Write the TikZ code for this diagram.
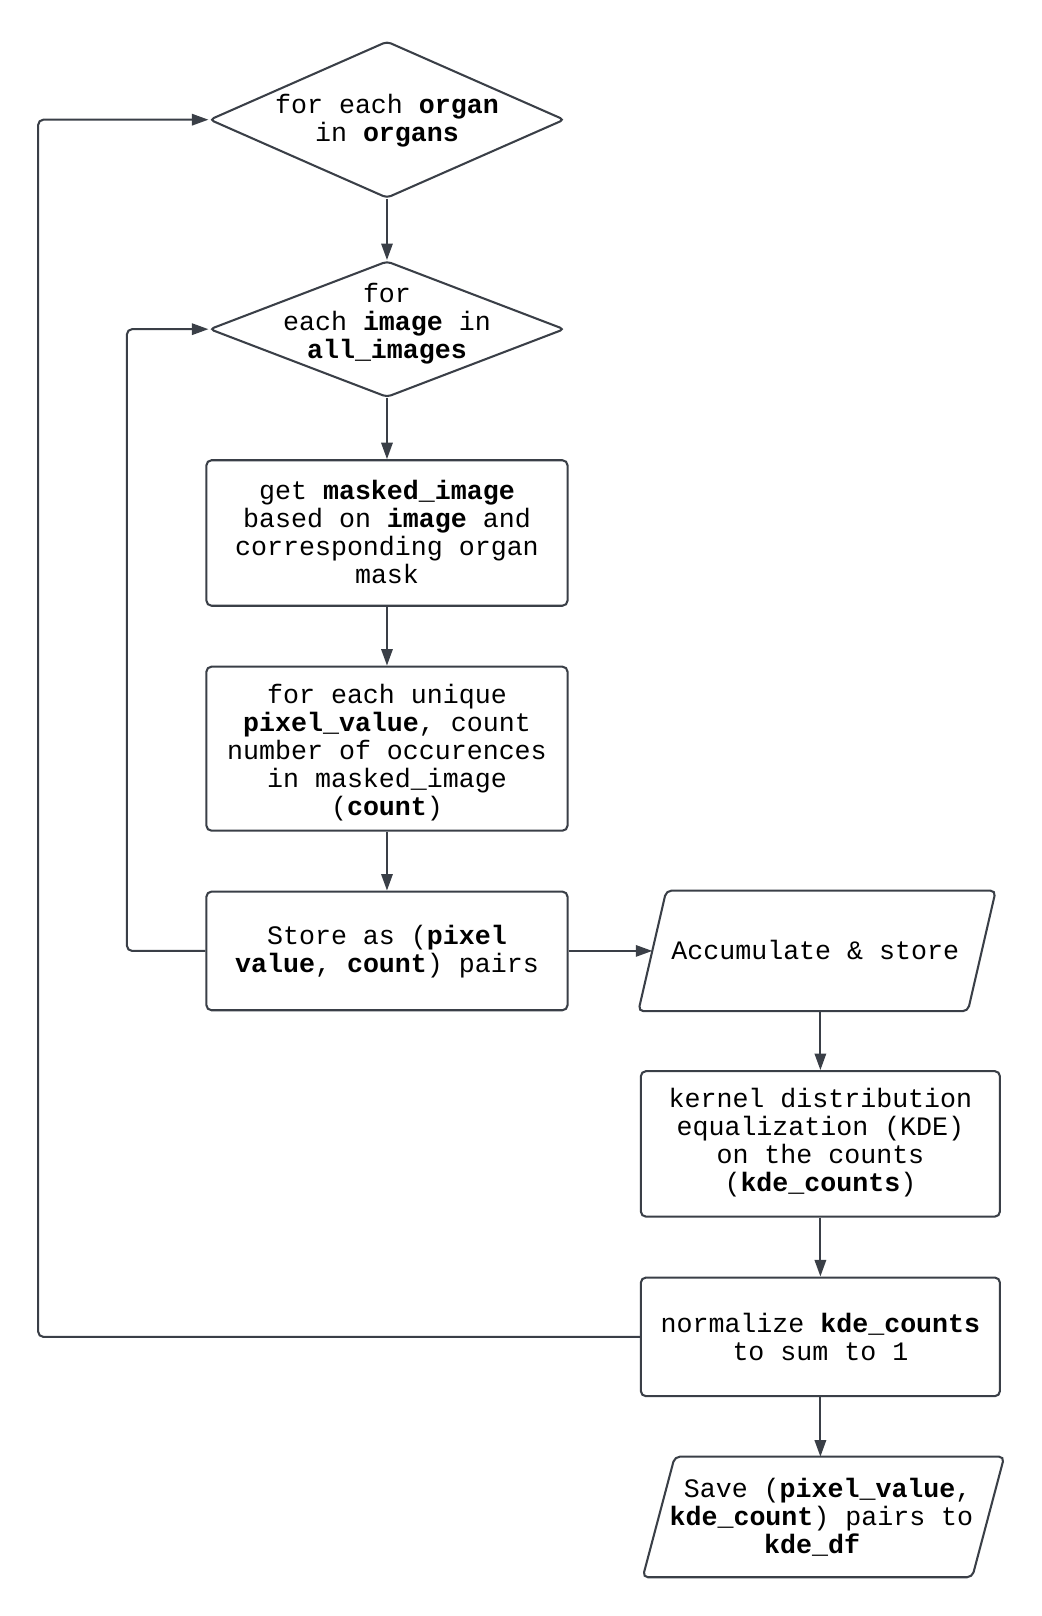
\documentclass[tikz,border=0pt]{standalone}
\usepackage{fontspec}
\setmainfont{Liberation Mono}
\usetikzlibrary{shapes.geometric,arrows.meta}
\definecolor{ln}{HTML}{3A3F47}
\begin{document}
\begin{tikzpicture}[x=0.5pt,y=-0.5pt,
  shp/.style={draw=ln,line width=1pt,inner sep=0pt,fill=white},
  box/.style={shp,rectangle,rounded corners=2.5pt,minimum width=175pt},
  dia/.style={shp,diamond,rounded corners=2pt,minimum width=172pt},
  para/.style={rectangle,inner sep=0pt,minimum width=159.25pt,minimum height=58pt},
  txt/.style={align=center,font=\fontsize{12.9}{13.5}\selectfont,inner sep=0pt},
  arr/.style={draw=ln,line width=1pt,-{Triangle[length=8pt,width=5.5pt]}},
  loopline/.style={arr,rounded corners=2.5pt}]
\useasboundingbox (0,0) rectangle (1009,1566);
% shapes
\node[dia,minimum height=76pt] (d1) at (375,116) {};
\node[dia,minimum height=66pt] (d2) at (375,319) {};
\node[box,minimum height=70.5pt] (b1) at (375,516.5) {};
\node[box,minimum height=79.5pt] (b2) at (375,725.5) {};
\node[box,minimum height=57.5pt] (b3) at (375,921.5) {};
\node[para] (p1) at (791.75,921.5) {};
\draw[shp,rounded corners=2.5pt] ([xshift=-6.75pt]p1.south west) -- ([xshift=6.75pt]p1.north west) -- ([xshift=6.75pt]p1.north east) -- ([xshift=-6.75pt]p1.south east) -- cycle;
\node[box,minimum width=174pt,minimum height=70.5pt] (b4) at (795,1108.5) {};
\node[box,minimum width=174pt,minimum height=57.5pt] (b5) at (795,1295.5) {};
\node[para] (p2) at (798,1470) {};
\draw[shp,rounded corners=2.5pt] ([xshift=-7.75pt]p2.south west) -- ([xshift=7.75pt]p2.north west) -- ([xshift=7.75pt]p2.north east) -- ([xshift=-7.75pt]p2.south east) -- cycle;
% texts
\node[txt] (t1) at (375,117) {for each \textbf{organ}\\in \textbf{organs}};
\node[txt] (t2) at (375,314) {for\\each \textbf{image} in\\\textbf{all\_images}};
\node[txt] (tb1) at (375,515.5) {get \textbf{masked\_image}\\based on \textbf{image} and\\corresponding organ\\mask};
\node[txt] (tb2) at (375,729.5) {for each unique\\\textbf{pixel\_value}, count\\number of occurences\\in masked\_image\\(\textbf{count})};
\node[txt] (tb3) at (375,922.5) {Store as (\textbf{pixel}\\\textbf{value}, \textbf{count}) pairs};
\node[txt] (tp1) at (790,921) {Accumulate \& store};
\node[txt] (tb4) at (795,1107.5) {kernel distribution\\equalization (KDE)\\on the counts\\(\textbf{kde\_counts})};
\node[txt] (tb5) at (795,1295.5) {normalize \textbf{kde\_counts}\\to sum to 1};
\node[txt] (tp2) at (796,1470) {\hspace*{6pt}Save (\textbf{pixel\_value},\\\textbf{kde\_count}) pairs to\\\textbf{kde\_df}\hspace*{9pt}};
% connectors
\draw[arr] (d1.south) -- (d2.north);
\draw[arr] (d2.south) -- (b1.north);
\draw[arr] (b1.south) -- (b2.north);
\draw[arr] (b2.south) -- (b3.north);
\draw[arr] (b3.east) -- (p1.west);
\draw[arr] (p1.south -| b4.north) -- (b4.north);
\draw[arr] (b4.south) -- (b5.north);
\draw[arr] (b5.south) -- (b5.south |- p2.north);
\draw[loopline] (b3.west) -- ++(-76,0) |- (d2.west);
\draw[loopline] (b5.west) -- ++(-583,0) |- (d1.west);
\end{tikzpicture}
\end{document}
